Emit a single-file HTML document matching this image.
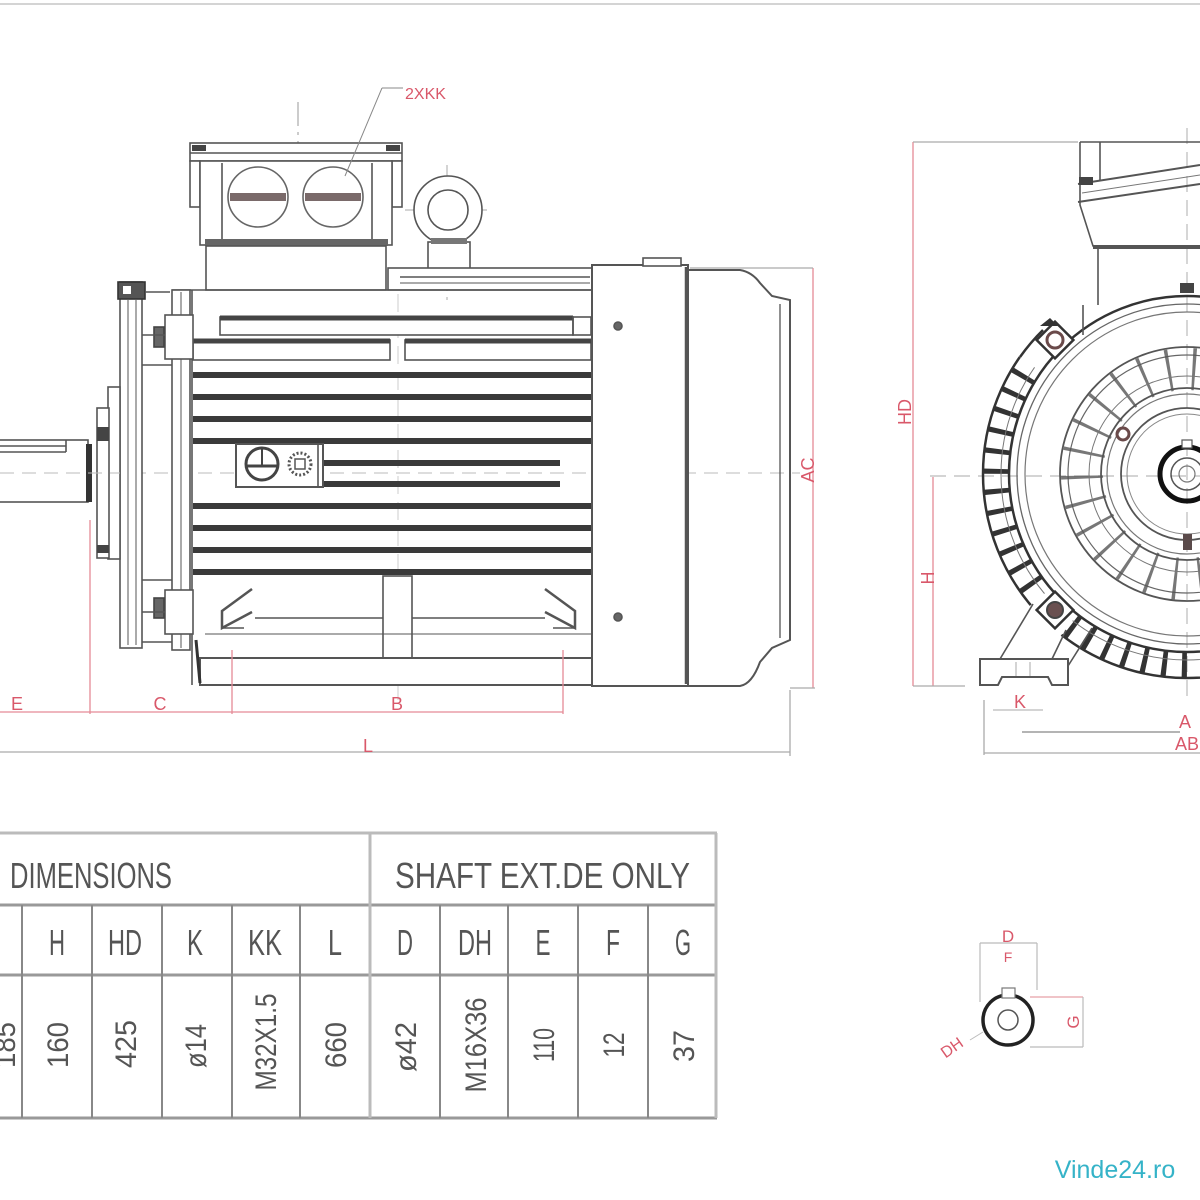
<!DOCTYPE html>
<html><head><meta charset="utf-8">
<style>html,body{margin:0;padding:0;background:#fff}svg{display:block}</style>
</head>
<body>
<svg width="1200" height="1200" viewBox="0 0 1200 1200" xmlns="http://www.w3.org/2000/svg" font-family="Liberation Sans, sans-serif">
<defs>
<clipPath id="finclip">
<polygon points="1187,474 1336,687 1187,734 1027,679"/>
<polygon points="1187,474 988,641 927,474 974,325"/>
</clipPath>
</defs>
<rect width="1200" height="1200" fill="#fff"/>
<line x1="0" y1="4" x2="1200" y2="4" stroke="#d4d4d4" stroke-width="2"/>

<!-- ============ SIDE VIEW ============ -->
<g stroke="#555" stroke-width="1.6" fill="none">
<line x1="0" y1="473" x2="800" y2="473" stroke="#bbb" stroke-width="1" stroke-dasharray="14 8"/>
<line x1="398" y1="268" x2="398" y2="700" stroke="#ccc" stroke-width="1" stroke-dasharray="18 8"/>
<line x1="298" y1="102" x2="298" y2="290" stroke="#999" stroke-width="1" stroke-dasharray="24 6 3 6"/>
<line x1="447" y1="165" x2="447" y2="300" stroke="#aaa" stroke-width="1" stroke-dasharray="16 6"/>
<line x1="405" y1="210" x2="490" y2="210" stroke="#aaa" stroke-width="1" stroke-dasharray="16 6"/>

<rect x="190" y="143" width="212" height="18" fill="#fff"/>
<line x1="190" y1="153" x2="402" y2="153"/>
<rect x="192" y="145" width="14" height="6" fill="#444" stroke="none"/>
<rect x="386" y="145" width="14" height="6" fill="#444" stroke="none"/>
<rect x="190" y="161" width="10" height="46" fill="#fff"/>
<rect x="392" y="161" width="10" height="46" fill="#fff"/>
<rect x="200" y="161" width="192" height="84" fill="#fff"/>
<line x1="222" y1="163" x2="222" y2="242"/>
<line x1="372" y1="163" x2="372" y2="242"/>
<rect x="205" y="239" width="183" height="7" fill="#666" stroke="none"/>
<circle cx="258" cy="197" r="30" fill="#fff" stroke="#666"/>
<circle cx="333" cy="197" r="30" fill="#fff" stroke="#666"/>
<rect x="230" y="193" width="56" height="8" fill="#7a6a6a" stroke="none"/>
<rect x="305" y="193" width="56" height="8" fill="#7a6a6a" stroke="none"/>
<rect x="206" y="246" width="180" height="44" fill="#fff"/>

<circle cx="448" cy="210" r="34" fill="#fff"/>
<circle cx="448" cy="210" r="20"/>
<rect x="428" y="242" width="42" height="28" fill="#fff"/>
<rect x="431" y="238" width="36" height="6" fill="#777" stroke="none"/>

<rect x="388" y="268" width="204" height="22" fill="#fff"/>
<line x1="400" y1="277" x2="590" y2="277"/>
<line x1="400" y1="283" x2="590" y2="283" stroke-width="1"/>

<line x1="172" y1="290" x2="592" y2="290"/>
<line x1="192" y1="290" x2="192" y2="685"/>
<rect x="220" y="317" width="353" height="18" fill="#fff"/>
<line x1="220" y1="318" x2="573" y2="318" stroke="#444" stroke-width="5"/>
<rect x="573" y="317" width="18" height="18"/>
<rect x="193" y="340" width="197" height="20" fill="#fff"/>
<line x1="193" y1="341" x2="390" y2="341" stroke="#444" stroke-width="5"/>
<rect x="405" y="340" width="186" height="20" fill="#fff"/>
<line x1="405" y1="341" x2="591" y2="341" stroke="#444" stroke-width="5"/>
<g stroke="#3a3a3a" stroke-width="6">
<line x1="193" y1="375" x2="591" y2="375"/>
<line x1="193" y1="397" x2="591" y2="397"/>
<line x1="193" y1="419" x2="591" y2="419"/>
<line x1="193" y1="441" x2="591" y2="441"/>
<line x1="323" y1="463" x2="560" y2="463"/>
<line x1="323" y1="484" x2="560" y2="484"/>
<line x1="193" y1="506" x2="591" y2="506"/>
<line x1="193" y1="528" x2="591" y2="528"/>
<line x1="193" y1="550" x2="591" y2="550"/>
<line x1="193" y1="572" x2="591" y2="572"/>
</g>
<rect x="236" y="444" width="87" height="43" fill="#fff" stroke-width="2"/>
<line x1="318" y1="444" x2="318" y2="487"/>
<circle cx="262" cy="464" r="16" stroke="#444" stroke-width="3"/>
<line x1="247" y1="466" x2="277" y2="466" stroke="#444" stroke-width="3"/>
<line x1="262" y1="449" x2="262" y2="466" stroke="#444" stroke-width="2"/>
<circle cx="300" cy="464" r="11" stroke="#555" stroke-width="3" stroke-dasharray="2 2"/>
<rect x="295" y="459" width="10" height="10" stroke-width="1.5"/>

<rect x="383" y="576" width="29" height="84" fill="#fff"/>
<line x1="255" y1="618" x2="383" y2="618"/>
<line x1="412" y1="618" x2="545" y2="618"/>
<path d="M252,589 L222,611 L222,628 L252,612" stroke-width="2.5"/>
<line x1="222" y1="628" x2="244" y2="628"/>
<path d="M545,589 L575,611 L575,628 L545,612" stroke-width="2.5"/>
<line x1="575" y1="628" x2="553" y2="628"/>
<rect x="200" y="658" width="393" height="27" fill="#fff" stroke-width="2"/>
<line x1="205" y1="634" x2="592" y2="634" stroke-width="1"/>
<line x1="196" y1="640" x2="200" y2="683" stroke="#333" stroke-width="3"/>

<rect x="172" y="290" width="18" height="360" fill="#fff"/>
<line x1="181" y1="292" x2="181" y2="648" stroke-width="1"/>
<rect x="165" y="315" width="28" height="44" fill="#fff"/>
<rect x="165" y="590" width="28" height="44" fill="#fff"/>
<rect x="154" y="327" width="10" height="20" fill="#666" stroke="#444"/>
<rect x="154" y="598" width="10" height="20" fill="#666" stroke="#444"/>
<line x1="142" y1="335" x2="165" y2="335"/>
<line x1="142" y1="365" x2="172" y2="365"/>
<line x1="142" y1="580" x2="172" y2="580"/>
<line x1="142" y1="612" x2="165" y2="612"/>
<line x1="142" y1="642" x2="172" y2="642"/>
<rect x="120" y="282" width="22" height="366" fill="#fff"/>
<line x1="128" y1="300" x2="128" y2="645" stroke-width="1"/>
<line x1="136" y1="300" x2="136" y2="645" stroke-width="1"/>
<rect x="118" y="282" width="27" height="17" fill="#555" stroke="#333"/>
<rect x="123" y="286" width="8" height="8" fill="#fff" stroke="none"/>
<line x1="145" y1="292" x2="170" y2="292"/>
<rect x="108" y="387" width="12" height="172" fill="#fff"/>
<rect x="97" y="408" width="12" height="150" fill="#fff"/>
<rect x="97" y="427" width="12" height="14" fill="#444" stroke="none"/>
<rect x="97" y="545" width="12" height="8" fill="#444" stroke="none"/>
<rect x="-2" y="440" width="90" height="62" fill="#fff"/>
<line x1="0" y1="446" x2="66" y2="446"/>
<line x1="0" y1="452" x2="66" y2="452"/>
<line x1="66" y1="440" x2="66" y2="452"/>
<rect x="86" y="444" width="6" height="58" fill="#333" stroke="none"/>
<line x1="0" y1="473" x2="120" y2="473" stroke="#bbb" stroke-width="1" stroke-dasharray="14 8"/>

<rect x="592" y="265" width="96" height="421" fill="#fff" stroke-width="2"/>
<line x1="686" y1="267" x2="686" y2="684" stroke-width="2.5"/>
<rect x="643" y="258" width="38" height="8" fill="#fff"/>
<path d="M688,270 L740,270 Q752,272 760,283 L772,296 L790,300 L790,640 L772,648 L760,662 Q752,684 740,686 L688,686" stroke-width="2"/>
<line x1="780" y1="304" x2="780" y2="638" stroke-width="1.3"/>
<circle cx="618" cy="326" r="4" fill="#666"/>
<circle cx="618" cy="617" r="4" fill="#666"/>
</g>

<g stroke="#e58a96" stroke-width="1.3" fill="none">
<line x1="90" y1="520" x2="90" y2="714"/>
<line x1="232" y1="650" x2="232" y2="714"/>
<line x1="563" y1="650" x2="563" y2="714"/>
<line x1="0" y1="712" x2="563" y2="712"/>
<line x1="813" y1="268" x2="813" y2="688"/>
<line x1="382" y1="88" x2="403" y2="88" stroke="#888" stroke-width="1"/>
<line x1="382" y1="88" x2="345" y2="176" stroke="#888" stroke-width="1"/>
</g>
<g stroke="#aaa" stroke-width="1.3" fill="none">
<line x1="0" y1="752" x2="790" y2="752"/>
<line x1="790" y1="690" x2="790" y2="756"/>
<line x1="690" y1="268" x2="813" y2="268"/>
<line x1="790" y1="688" x2="815" y2="688"/>
</g>
<g fill="#d9586a" font-size="18">
<text x="17" y="710" text-anchor="middle">E</text>
<text x="160" y="710" text-anchor="middle">C</text>
<text x="397" y="710" text-anchor="middle">B</text>
<text x="368" y="752" text-anchor="middle">L</text>
<text transform="translate(814,470) rotate(-90)" text-anchor="middle">AC</text>
<text x="405" y="99" font-size="16">2XKK</text>
</g>

<!-- ============ END VIEW ============ -->
<g stroke="#444" stroke-width="1.6" fill="none">
<line x1="930" y1="476" x2="1200" y2="476" stroke="#bbb" stroke-width="1.2" stroke-dasharray="16 8"/>
<line x1="1187" y1="128" x2="1187" y2="700" stroke="#bbb" stroke-width="1.2" stroke-dasharray="16 8"/>

<path d="M1080,142 L1200,142 M1080,142 L1080,205 L1093,246 L1200,246" stroke="#555"/>
<line x1="1100" y1="142" x2="1100" y2="180" stroke="#555"/>
<line x1="1078" y1="184" x2="1200" y2="165" stroke="#555" stroke-width="2"/>
<line x1="1078" y1="202" x2="1200" y2="184" stroke="#555" stroke-width="2"/>
<line x1="1082" y1="193" x2="1200" y2="175" stroke="#777" stroke-width="1"/>
<rect x="1079" y="177" width="14" height="8" fill="#444" stroke="none"/>
<line x1="1093" y1="247" x2="1200" y2="247" stroke="#555" stroke-width="4"/>
<line x1="1098" y1="249" x2="1098" y2="305" stroke="#555"/>
<rect x="1180" y="283" width="14" height="10" fill="#444" stroke="none"/>

<g clip-path="url(#finclip)">
<circle cx="1187" cy="474" r="204" stroke="#333" stroke-width="2.5"/>
<circle cx="1187" cy="474" r="191" stroke="#333" stroke-width="26" stroke-dasharray="5 15"/>
<circle cx="1187" cy="474" r="186" stroke="#777" stroke-width="1"/>
</g>
<path d="M1020,357 A204,204 0 0 1 1043,330" stroke="#333" stroke-width="2.5"/>
<circle cx="1187" cy="474" r="178" stroke="#333" stroke-width="2.5"/>
<circle cx="1187" cy="474" r="170" stroke="#666" stroke-width="1.3"/>
<circle cx="1187" cy="474" r="162" stroke="#777" stroke-width="1.2"/>

<g transform="translate(1055,340) rotate(45)">
<rect x="-13" y="-13" width="26" height="26" fill="#fff" stroke="#333" stroke-width="2.5"/>
<circle r="8" stroke="#6a4a4a" stroke-width="3"/>
</g>
<path d="M1040,326 L1050,318 L1058,326" fill="#333" stroke="none"/>
<g transform="translate(1055,610) rotate(45)">
<rect x="-13" y="-13" width="26" height="26" fill="#fff" stroke="#333" stroke-width="2.5"/>
<circle r="8" fill="#6a5050" stroke="#444" stroke-width="2"/>
</g>
<line x1="1083" y1="305" x2="1083" y2="335" stroke="#555"/>

<path d="M980,685 L980,659 L1068,659 L1068,685 L1052,685 L1048,677 L1002,677 L998,685 Z" stroke="#555" fill="#fff" stroke-width="2"/>
<line x1="1000" y1="659" x2="1033" y2="604" stroke="#555"/>
<line x1="1052" y1="659" x2="1066" y2="630" stroke="#555"/>
<line x1="1068" y1="666" x2="1092" y2="628" stroke="#555"/>
<line x1="1016" y1="662" x2="1016" y2="676" stroke="#aaa" stroke-width="1"/>
<line x1="1030" y1="662" x2="1030" y2="676" stroke="#aaa" stroke-width="1"/>

<circle cx="1187" cy="474" r="127" stroke="#555" stroke-width="1.8"/>
<circle cx="1187" cy="474" r="119" stroke="#666" stroke-width="1.2"/>
<circle cx="1187" cy="474" r="105" stroke="#555" stroke-width="42" stroke-dasharray="3 22" opacity="0.8"/>
<circle cx="1187" cy="474" r="98" stroke="#777" stroke-width="1"/>
<circle cx="1187" cy="474" r="86" stroke="#555" stroke-width="1.8"/>
<circle cx="1187" cy="474" r="80" stroke="#777" stroke-width="1.2"/>
<circle cx="1187" cy="474" r="66" stroke="#555" stroke-width="1.8"/>
<circle cx="1187" cy="474" r="60" stroke="#888" stroke-width="1"/>
<circle cx="1123" cy="434" r="6" stroke="#6a4a4a" stroke-width="3"/>
<rect x="1183" y="534" width="9" height="16" fill="#5a4a4a" stroke="none"/>
<circle cx="1187" cy="474" r="27" stroke="#111" stroke-width="5"/>
<circle cx="1187" cy="474" r="16" stroke="#555" stroke-width="1.5"/>
<circle cx="1187" cy="474" r="8" stroke="#777" stroke-width="1.2"/>
<rect x="1182" y="440" width="10" height="8" fill="#fff" stroke="#555" stroke-width="1.2"/>
</g>

<g stroke="#e58a96" stroke-width="1.3" fill="none">
<line x1="913" y1="142" x2="913" y2="686"/>
<line x1="933" y1="477" x2="933" y2="686"/>
<line x1="993" y1="710" x2="1043" y2="710" stroke="#bbb"/>
</g>
<g stroke="#aaa" stroke-width="1.3" fill="none">
<line x1="913" y1="142" x2="1078" y2="142"/>
<line x1="913" y1="686" x2="965" y2="686"/>
<line x1="984" y1="700" x2="984" y2="755"/>
<line x1="1022" y1="732" x2="1180" y2="732" stroke="#888"/>
<line x1="984" y1="753" x2="1200" y2="753"/>
</g>
<g fill="#d9586a" font-size="18">
<text transform="translate(911,412) rotate(-90)" text-anchor="middle">HD</text>
<text transform="translate(934,578) rotate(-90)" text-anchor="middle">H</text>
<text x="1020" y="708" text-anchor="middle">K</text>
<text x="1185" y="728" text-anchor="middle">A</text>
<text x="1175" y="750">AB</text>
</g>

<!-- ============ SHAFT DETAIL ============ -->
<g fill="none">
<line x1="980" y1="943" x2="980" y2="1002" stroke="#bbb" stroke-width="1.2"/>
<line x1="1037" y1="943" x2="1037" y2="990" stroke="#bbb" stroke-width="1.2"/>
<line x1="980" y1="943" x2="1037" y2="943" stroke="#bbb" stroke-width="1.2"/>
<line x1="1030" y1="997" x2="1083" y2="997" stroke="#e8a0a8" stroke-width="1.2"/>
<line x1="1030" y1="1047" x2="1083" y2="1047" stroke="#bbb" stroke-width="1.2"/>
<line x1="1083" y1="997" x2="1083" y2="1047" stroke="#bbb" stroke-width="1.2"/>
<circle cx="1008" cy="1020" r="25" stroke="#222" stroke-width="3.5" fill="#fff"/>
<circle cx="1008" cy="1020" r="10" stroke="#555" stroke-width="1.5"/>
<rect x="1002" y="988" width="13" height="10" stroke="#777" stroke-width="1.2" fill="#fff"/>
<line x1="983" y1="1032" x2="970" y2="1040" stroke="#bbb" stroke-width="1"/>
</g>
<g fill="#d9586a">
<text x="1008" y="942" font-size="17" text-anchor="middle">D</text>
<text x="1008" y="962" font-size="14" text-anchor="middle">F</text>
<text transform="translate(1079,1022) rotate(-90)" font-size="17" text-anchor="middle">G</text>
<text transform="translate(955,1052) rotate(-35)" font-size="16" text-anchor="middle">DH</text>
</g>

<!-- ============ TABLE ============ -->
<g stroke="#888" stroke-width="2" fill="none">
<line x1="0" y1="833" x2="717" y2="833" stroke="#bbb" stroke-width="3"/>
<line x1="0" y1="905" x2="717" y2="905" stroke="#999" stroke-width="3"/>
<line x1="0" y1="975" x2="717" y2="975" stroke="#999" stroke-width="3"/>
<line x1="0" y1="1118" x2="717" y2="1118" stroke="#999" stroke-width="3"/>
<line x1="370" y1="833" x2="370" y2="1118" stroke="#bbb" stroke-width="3"/>
<line x1="716" y1="833" x2="716" y2="1118" stroke="#bbb" stroke-width="3"/>
<line x1="22" y1="905" x2="22" y2="1118"/>
<line x1="92" y1="905" x2="92" y2="1118"/>
<line x1="162" y1="905" x2="162" y2="1118"/>
<line x1="232" y1="905" x2="232" y2="1118"/>
<line x1="300" y1="905" x2="300" y2="1118"/>
<line x1="440" y1="905" x2="440" y2="1118"/>
<line x1="508" y1="905" x2="508" y2="1118"/>
<line x1="578" y1="905" x2="578" y2="1118"/>
<line x1="648" y1="905" x2="648" y2="1118"/>
</g>
<g fill="#555" font-size="36">
<text x="10" y="888" textLength="162" lengthAdjust="spacingAndGlyphs">DIMENSIONS</text>
<text x="395" y="888" textLength="295" lengthAdjust="spacingAndGlyphs">SHAFT EXT.DE ONLY</text>
</g>
<g fill="#555" font-size="36" text-anchor="middle">
<text x="57" y="955" textLength="16" lengthAdjust="spacingAndGlyphs">H</text>
<text x="125" y="955" textLength="34" lengthAdjust="spacingAndGlyphs">HD</text>
<text x="195" y="955" textLength="16" lengthAdjust="spacingAndGlyphs">K</text>
<text x="265" y="955" textLength="34" lengthAdjust="spacingAndGlyphs">KK</text>
<text x="335" y="955" textLength="14" lengthAdjust="spacingAndGlyphs">L</text>
<text x="405" y="955" textLength="16" lengthAdjust="spacingAndGlyphs">D</text>
<text x="475" y="955" textLength="34" lengthAdjust="spacingAndGlyphs">DH</text>
<text x="543" y="955" textLength="15" lengthAdjust="spacingAndGlyphs">E</text>
<text x="613" y="955" textLength="14" lengthAdjust="spacingAndGlyphs">F</text>
<text x="683" y="955" textLength="16" lengthAdjust="spacingAndGlyphs">G</text>
</g>
<g fill="#555" font-size="30">
<text transform="translate(57,1045) rotate(-90)" x="0" y="11" text-anchor="middle" textLength="46" lengthAdjust="spacingAndGlyphs">160</text>
<text transform="translate(125,1044) rotate(-90)" x="0" y="11" text-anchor="middle" textLength="48" lengthAdjust="spacingAndGlyphs">425</text>
<text transform="translate(195,1046) rotate(-90)" x="0" y="11" text-anchor="middle" textLength="44" lengthAdjust="spacingAndGlyphs">ø14</text>
<text transform="translate(265,1042) rotate(-90)" x="0" y="11" text-anchor="middle" textLength="97" lengthAdjust="spacingAndGlyphs">M32X1.5</text>
<text transform="translate(335,1045) rotate(-90)" x="0" y="11" text-anchor="middle" textLength="46" lengthAdjust="spacingAndGlyphs">660</text>
<text transform="translate(405,1047) rotate(-90)" x="0" y="11" text-anchor="middle" textLength="50" lengthAdjust="spacingAndGlyphs">ø42</text>
<text transform="translate(475,1045) rotate(-90)" x="0" y="11" text-anchor="middle" textLength="95" lengthAdjust="spacingAndGlyphs">M16X36</text>
<text transform="translate(543,1045) rotate(-90)" x="0" y="11" text-anchor="middle" textLength="34" lengthAdjust="spacingAndGlyphs">110</text>
<text transform="translate(613,1045) rotate(-90)" x="0" y="11" text-anchor="middle" textLength="25" lengthAdjust="spacingAndGlyphs">12</text>
<text transform="translate(683,1046) rotate(-90)" x="0" y="11" text-anchor="middle" textLength="32" lengthAdjust="spacingAndGlyphs">37</text>
<text transform="translate(4,1045) rotate(-90)" x="0" y="11" text-anchor="middle" textLength="46" lengthAdjust="spacingAndGlyphs">185</text>
</g>

<text x="1115" y="1178" font-size="25" fill="#35b3c8" text-anchor="middle">Vinde24.ro</text>
</svg>
</body></html>
